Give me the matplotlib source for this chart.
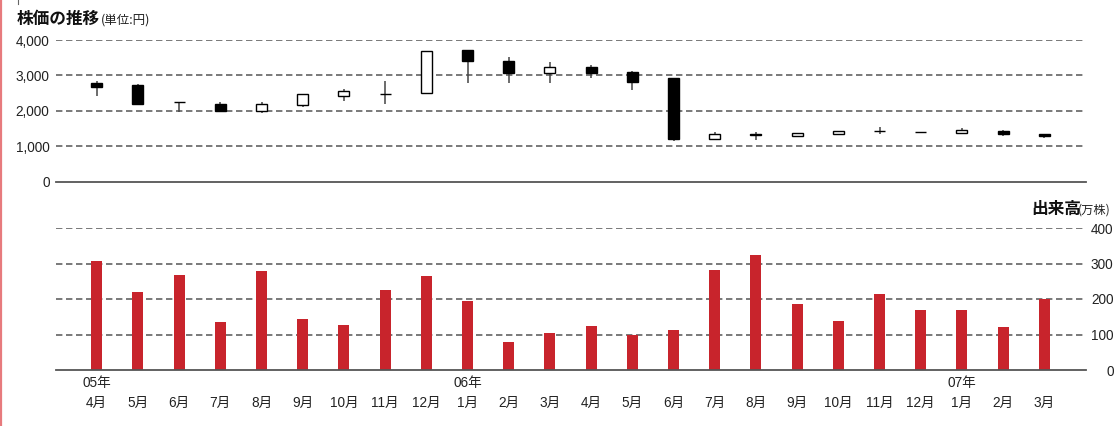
import matplotlib
matplotlib.use("Agg")
import matplotlib.pyplot as plt
from matplotlib.patches import Rectangle
from matplotlib.lines import Line2D

plt.rcParams['font.family'] = ['Liberation Sans', 'Noto Sans CJK JP']
plt.rcParams['lines.scale_dashes'] = False

# Monthly data, April 2005 - March 2007
months = ["4月", "5月", "6月", "7月", "8月", "9月", "10月", "11月", "12月",
          "1月", "2月", "3月", "4月", "5月", "6月", "7月", "8月", "9月",
          "10月", "11月", "12月", "1月", "2月", "3月"]
year_labels = {0: "05年", 9: "06年", 21: "07年"}

# Share price (yen)
opens = [2780, 2733, 2260, 2206, 2000, 2178, 2432, 2475, 2516, 3710, 3400, 3080,
         3240, 3099, 2930, 1211, 1345, 1287, 1361, 1432, 1405, 1389, 1437, 1343]
closes = [2685, 2206, 2245, 1991, 2206, 2479, 2555, 2465, 3681, 3409, 3080, 3230,
          3070, 2826, 1211, 1343, 1320, 1371, 1428, 1424, 1395, 1456, 1343, 1287]
highs = [2845, 2750, 2260, 2245, 2262, 2479, 2611, 2837, 3700, 3710, 3521, 3380,
         3287, 3127, 2930, 1417, 1417, 1371, 1440, 1549, 1410, 1521, 1465, 1343]
lows = [2432, 2190, 1972, 1991, 1944, 2104, 2290, 2188, 2516, 2780, 2780, 2780,
        2938, 2592, 1164, 1200, 1192, 1270, 1340, 1343, 1390, 1380, 1296, 1240]

# Trading volume (10,000 shares)
volumes = [308, 220, 269, 134, 280, 145, 128, 224, 266, 193, 78, 103,
           123, 100, 114, 283, 325, 185, 137, 215, 170, 170, 122, 201]

price_ticks = [0, 1000, 2000, 3000, 4000]
price_tick_labels = ["0", "1,000", "2,000", "3,000", "4,000"]
volume_ticks = [0, 100, 200, 300, 400]
volume_tick_labels = ["0", "100", "200", "300", "400"]

W, H = 1117, 426
fig = plt.figure(figsize=(W / 100, H / 100), dpi=100)

left = 55.5 / W
width = 1030 / W
ax1 = fig.add_axes([left, 1 - 182 / H, width, 142 / H])
ax2 = fig.add_axes([left, 1 - 370 / H, width, 142 / H])

x = list(range(len(months)))
body_w = 0.27
red = "#c8242c"
grid_color = "#555555"
text_color = "#222222"
dash = (0, (4.6, 2.6))
tick_size = 9.8

for ax in (ax1, ax2):
    ax.set_xlim(-1, len(months))
    for s in ("top", "left", "right"):
        ax.spines[s].set_visible(False)
    ax.spines["bottom"].set_color(grid_color)
    ax.spines["bottom"].set_linewidth(1.3)
    ax.set_facecolor("none")

# --- Share price candlesticks ---
ax1.set_ylim(0, 4000)
for v in price_ticks[1:]:
    ax1.axhline(v, color=grid_color, lw=1.1, ls=dash, zorder=1)
for i, o, c, hi, lo in zip(x, opens, closes, highs, lows):
    ax1.plot([i, i], [lo, hi], color="#444444", lw=1.1, zorder=2,
             solid_capstyle="butt")
    bottom = min(o, c)
    height = abs(c - o)
    face = "black" if c < o else "white"
    ax1.add_patch(Rectangle((i - body_w / 2, bottom), body_w, height,
                            facecolor=face, edgecolor="black", lw=1.0, zorder=3))
ax1.set_xticks([])
ax1.set_yticks(price_ticks, price_tick_labels)
ax1.tick_params(axis="y", length=0, pad=4.3, labelsize=tick_size, colors=text_color)

# --- Trading volume bars ---
ax2.set_ylim(0, 400)
for v in volume_ticks[1:]:
    ax2.axhline(v, color=grid_color, lw=1.1, ls=dash, zorder=1)
ax2.bar(x, volumes, width=body_w, color=red, zorder=2)
ax2.yaxis.tick_right()
ax2.set_yticks(volume_ticks, volume_tick_labels)
ax2.tick_params(axis="y", length=0, pad=20.2, labelsize=tick_size, colors=text_color)
for lab in ax2.get_yticklabels():
    lab.set_horizontalalignment("right")

ax2.set_xticks(x, months)
ax2.tick_params(axis="x", length=0, pad=23.8, labelsize=tick_size, colors=text_color)
for lab in ax2.get_xticklabels():
    lab.set_verticalalignment("center")
for i, lab in year_labels.items():
    ax2.text(i, -13.5 / 142, lab, transform=ax2.get_xaxis_transform(),
             ha="center", va="center", fontsize=tick_size, color=text_color)

# --- Titles ---
fig.text(17 / W, 1 - 19 / H, "株価の推移", fontsize=12, fontweight="bold",
         family=["Noto Sans CJK JP"], va="center", ha="left", color="#111111")
fig.text(101 / W, 1 - 20.5 / H, "(単位:円)", fontsize=9,
         family=["Noto Sans CJK JP"], va="center", ha="left", color=text_color)
fig.text(1031 / W, 1 - 209 / H, "出来高", fontsize=12, fontweight="bold",
         family=["Noto Sans CJK JP"], va="center", ha="left", color="#111111")
fig.text(1078 / W, 1 - 210.5 / H, "(万株)", fontsize=8.8,
         family=["Noto Sans CJK JP"], va="center", ha="left", color=text_color)

# Page border on the left and small mark at the top
fig.add_artist(Line2D([1 / W, 1 / W], [0, 1], color="#e77a7d", lw=1.6,
                      transform=fig.transFigure))
fig.add_artist(Line2D([18 / W, 18 / W], [1, 1 - 4 / H], color="#666666", lw=0.8,
                      transform=fig.transFigure))

fig.savefig("out.png", dpi=100)
